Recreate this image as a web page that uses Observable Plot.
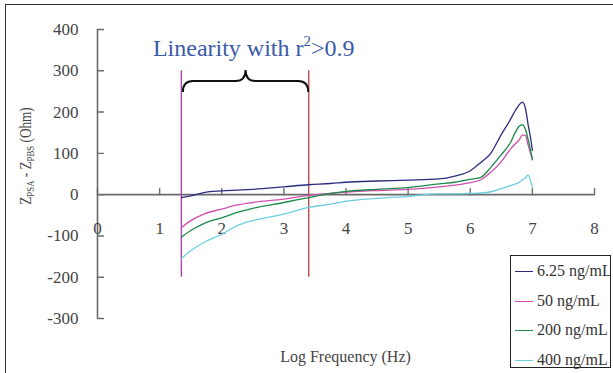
<!DOCTYPE html>
<html><head><meta charset="utf-8">
<script src="https://cdn.jsdelivr.net/npm/d3@7"></script>
<script src="https://cdn.jsdelivr.net/npm/@observablehq/plot@0.6"></script>
<style>
html,body{margin:0;padding:0;background:#fff;}
#wrap{position:relative;width:613px;height:373px;overflow:hidden;font-family:"Liberation Serif","Times New Roman",serif;}
#frame{position:absolute;left:5px;top:4px;width:700px;height:500px;border:1.5px solid #333;box-sizing:border-box;pointer-events:none;}
#legend{position:absolute;left:510px;top:255px;width:101px;height:113px;border:1px solid #222;box-sizing:border-box;background:#fff;}
#legend .row{position:absolute;left:0;height:20px;line-height:20px;font-size:16px;color:#333;white-space:nowrap;}
#legend .sw{position:absolute;left:4px;top:10px;width:18px;height:0;border-top:1.3px solid;}
#legend .lab{position:absolute;left:26px;top:0;}
</style>
</head><body>
<div id="wrap"><div id="chart"></div><div id="frame"></div><div id="legend"></div></div>
<script>
// ---- data ----
const series = ["6.25 ng/mL", "50 ng/mL", "200 ng/mL", "400 ng/mL"];
const colors = ["#2b2c82", "#d04fb0", "#1b8a48", "#6ccfe0"];
const logF = [1.35, 1.5, 1.71, 2.0, 2.25, 2.5, 3.0, 3.4, 3.75, 4.0, 4.5, 5.0, 5.5, 5.75, 6.0, 6.17, 6.33, 6.49, 6.65, 6.73, 6.79, 6.84, 6.89, 6.93, 6.97, 7.0];
const z625 = [-7, -3, 5, 9, 11, 13, 19, 24, 27, 30, 33, 35, 38, 45, 58, 78, 100, 143, 183, 205, 218, 224, 208, 171, 138, 107];
const z50  = [-80, -63, -47, -35, -25, -19, -11, -2, 3, 6, 10, 13, 19, 23, 29, 36, 54, 78, 111, 124, 133, 145, 143, 121, 100, 84];
const z200 = [-103, -87, -70, -56, -43, -33, -19, -7, 3, 8, 13, 17, 26, 30, 37, 42, 66, 95, 127, 152, 166, 169, 157, 135, 108, 86];
const z400 = [-155, -136, -116, -96, -75, -63, -47, -31, -23, -16, -9, -4, 2, 2, 3, 4, 7, 14, 22, 26, 30, 36, 41, 48, 34, 18];
const xTicks = [0, 1, 2, 3, 4, 5, 6, 7, 8];
const yTicks = [-300, -200, -100, 0, 100, 200, 300, 400];
const linearBounds = [1.35, 3.4];
const titleText = "Linearity with r";
const xLabel = "Log Frequency (Hz)";

const values = [z625, z50, z200, z400];
const rows = [];
series.forEach((s, k) => logF.forEach((f, i) => rows.push({series: s, f, z: values[k][i]})));

const tickShape = {draw(ctx, l) { ctx.moveTo(0, 0); ctx.lineTo(0, -l); }};
const axisColor = "#6a6a6a";
const serif = '"Liberation Serif", "Times New Roman", serif';

const plot = Plot.plot({
  width: 613, height: 373,
  marginLeft: 97, marginRight: 19, marginTop: 29, marginBottom: 55,
  style: {fontFamily: serif, background: "transparent", overflow: "visible"},
  x: {domain: [0, 8], axis: null},
  y: {domain: [-300, 400], axis: null},
  color: {domain: series, range: colors},
  marks: [
    Plot.ruleX([0], {y1: -300, y2: 400, stroke: axisColor, strokeWidth: 1.6}),
    Plot.ruleY([0], {x1: 0, x2: 8, stroke: axisColor, strokeWidth: 1.6}),
    Plot.vector(yTicks, {x: 0, y: d => d, length: 6, rotate: 90, anchor: "start", shape: tickShape, stroke: axisColor, strokeWidth: 1.4}),
    Plot.vector(xTicks, {x: d => d, y: 0, length: 6, rotate: 0, anchor: "start", shape: tickShape, stroke: axisColor, strokeWidth: 1.4}),
    Plot.text(yTicks, {x: 0, y: d => d, dx: -19, textAnchor: "end", fontSize: 17, fontFamily: serif, fill: "#444"}),
    Plot.text(xTicks, {x: d => d, y: 0, dy: 34, fontSize: 17, fontFamily: serif, fill: "#444"}),
    Plot.ruleX([linearBounds[0]], {y1: -200, y2: 300, stroke: "#a546a5", strokeWidth: 1.4}),
    Plot.ruleX([linearBounds[1]], {y1: -200, y2: 300, stroke: "#c04a4a", strokeWidth: 1.4}),
    Plot.line(rows, {x: "f", y: "z", z: "series", stroke: "series", strokeWidth: 1.3, curve: "monotone-x"})
  ]
});
document.getElementById("chart").appendChild(plot);

const sx = plot.scale("x").apply, sy = plot.scale("y").apply;
const svg = d3.select(plot);

// title
const t = svg.append("text").attr("x", sx(0.9)).attr("y", 56).attr("text-anchor", "start")
  .attr("font-size", 24).attr("fill", "#3b5aa8").style("font-family", serif);
t.append("tspan").text(titleText);
t.append("tspan").attr("font-size", 15).attr("dy", -10).text("2");
t.append("tspan").attr("dy", 10).text(">0.9");

// brace
const xl = sx(linearBounds[0]) + 2, xr = sx(linearBounds[1]), xm = (xl + xr) / 2;
const yE = 92, yM = 81, yT = 70, r = 10;
svg.append("path")
  .attr("d", `M${xl},${yE} Q${xl},${yM} ${xl + r},${yM} L${xm - r},${yM} Q${xm},${yM} ${xm},${yT} Q${xm},${yM} ${xm + r},${yM} L${xr - r},${yM} Q${xr},${yM} ${xr},${yE}`)
  .attr("fill", "none").attr("stroke", "#111").attr("stroke-width", 2);

// y label
const yl = svg.append("text").attr("transform", `translate(31,156) rotate(-90) scale(0.8,1)`)
  .attr("text-anchor", "middle").attr("font-size", 16.5).attr("fill", "#444").style("font-family", serif);
yl.append("tspan").text("Z");
yl.append("tspan").attr("font-size", 11).attr("dy", 3).text("PSA");
yl.append("tspan").attr("dy", -3).text(" - Z");
yl.append("tspan").attr("font-size", 11).attr("dy", 3).text("PBS");
yl.append("tspan").attr("dy", -3).text(" (Ohm)");

// x label
svg.append("text").attr("x", sx(4)).attr("y", 362).attr("text-anchor", "middle")
  .attr("font-size", 16).attr("fill", "#444").style("font-family", serif)
  .text(xLabel);

// legend
const leg = document.getElementById("legend");
series.forEach((s, i) => {
  const row = document.createElement("div");
  row.className = "row";
  row.style.top = (5 + i * 29.5) + "px";
  row.style.width = "100px";
  row.innerHTML = `<span class="sw" style="border-color:${colors[i]}"></span><span class="lab">${s}</span>`;
  leg.appendChild(row);
});
</script>
</body></html>
